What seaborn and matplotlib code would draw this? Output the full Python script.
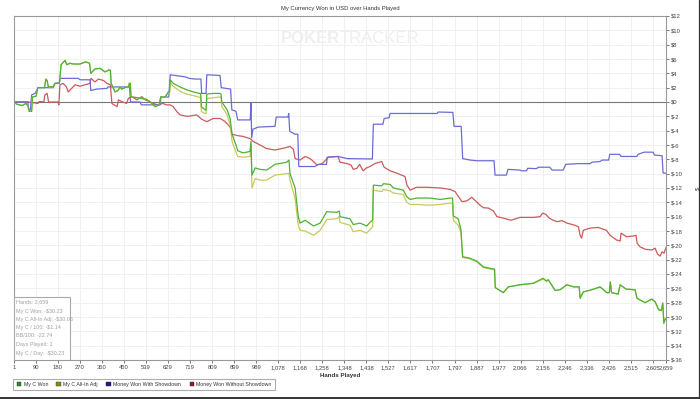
import numpy as np
import pandas as pd
import matplotlib
matplotlib.use("Agg")
import matplotlib.pyplot as plt
from matplotlib.patches import Patch, Rectangle
from matplotlib.lines import Line2D
import seaborn as sns

# ---------------- data ----------------
TITLE = "My Currency Won in USD over Hands Played"
SERIES_NAMES = ["My C Won", "My C All-In Adj", "Money Won With Showdown", "Money Won Without Showdown"]

HANDS_C = [1, 12, 34, 50, 59, 63, 73, 76, 91, 98, 125, 131, 136, 141, 160, 168, 186, 193, 201, 209,
           216, 229, 243, 270, 293, 309, 314, 331, 352, 372, 390, 394, 397, 413, 425, 433, 440, 460,
           468, 471, 475, 478, 494, 522, 539, 555, 576, 593, 599, 617, 630, 635, 638, 650, 678, 705,
           732, 757, 762, 765, 780, 784, 787, 814, 841, 845, 848, 870, 882, 890, 906, 913, 935, 963,
           967, 971, 984, 1004, 1031, 1065, 1113, 1122, 1126, 1147, 1160, 1167, 1188, 1222, 1249,
           1276, 1317, 1327, 1330, 1371, 1384, 1412, 1439, 1452, 1463, 1466, 1500, 1507, 1534, 1548,
           1588, 1602, 1616, 1643, 1697, 1738, 1779, 1789, 1792, 1812, 1823, 1830, 1847, 1860, 1888,
           1914, 1955, 1960, 1963, 1996, 2016, 2064, 2118, 2158, 2172, 2179, 2207, 2227, 2255, 2282,
           2305, 2309, 2322, 2356, 2390, 2418, 2428, 2432, 2437, 2464, 2472, 2496, 2533, 2541, 2574,
           2601, 2615, 2629, 2640, 2646, 2650, 2655, 2659]

MY_C_WON = [0, -0.3, -0.5, -0.2, -0.6, -1.3, -1.3, 0.7, 0.8, 2.0, 2.0, 3.2, 3.0, 2.1, 2.1, 2.6, 2.6,
            5.2, 5.5, 5.8, 5.2, 5.4, 5.3, 5.3, 5.6, 5.4, 4.0, 4.6, 4.7, 4.2, 4.5, 4.4, 2.6, 1.4, 1.6,
            2.1, 1.8, 2.1, 2.1, 2.6, 2.6, 0.7, 0.65, 0.5, 0.4, 0.05, -0.65, -0.4, 0.7, 0.7, 1.4, 1.4,
            3.1, 2.6, 2.1, 1.7, 1.4, 1.2, 1.2, -0.65, -1.1, -1.1, 1.1, 1.2, 1.2, 1.1, 0.0, -1.1, -2.3,
            -4.5, -6.0, -6.8, -7.1, -6.9, -5.5, -10.2, -9.2, -9.4, -9.5, -8.7, -8.4, -8.1, -9.95,
            -12.0, -16.0, -16.9, -16.5, -17.3, -16.9, -15.3, -15.4, -15.2, -16.0, -16.3, -17.1,
            -16.9, -17.3, -16.8, -16.5, -11.6, -11.7, -11.4, -11.5, -12.0, -12.3, -13.2, -13.6,
            -13.4, -13.4, -13.6, -13.4, -13.4, -15.9, -16.3, -17.8, -21.6, -21.7, -21.8, -22.2,
            -23.0, -23.3, -23.3, -25.9, -26.6, -25.8, -25.5, -25.3, -24.6, -25.0, -24.8, -26.3,
            -26.2, -25.5, -25.8, -25.8, -27.4, -26.5, -26.2, -25.8, -26.6, -26.6, -25.1, -26.6,
            -26.8, -25.5, -26.1, -26.2, -27.4, -28.0, -27.5, -27.9, -29.0, -29.1, -28.1, -30.9,
            -30.4, -30.23]

MY_C_ALLIN = [0, -0.3, -0.5, -0.2, -0.6, -1.3, -1.3, 0.7, 0.8, 2.0, 2.0, 3.2, 3.0, 2.1, 2.1, 2.6, 2.6,
              5.2, 5.5, 5.8, 5.2, 5.4, 5.3, 5.3, 5.6, 5.4, 4.0, 4.6, 4.7, 4.2, 4.5, 4.4, 2.6, 1.4, 1.6,
              2.1, 1.8, 2.1, 2.1, 2.6, 2.6, 0.7, 0.65, 0.5, 0.4, 0.05, -0.65, -0.4, 0.7, 0.7, 1.3, 1.3,
              2.7, 2.2, 1.5, 1.1, 0.9, 0.65, 0.65, -1.35, -1.6, -1.6, 0.5, 0.6, 0.7, 0.6, -0.6, -1.8,
              -3.2, -5.5, -7.0, -7.6, -7.7, -7.6, -6.0, -12.0, -10.7, -10.9, -10.9, -10.2, -10.0,
              -9.95, -10.9, -13.5, -17.2, -17.9, -18.0, -18.6, -17.9, -16.4, -16.3, -16.0, -16.8,
              -17.2, -18.1, -17.9, -18.3, -17.8, -17.4, -12.3, -12.5, -12.2, -12.4, -12.7, -12.9,
              -14.0, -14.3, -14.3, -14.4, -14.3, -14.1, -14.2, -16.5, -17.2, -18.2, -21.7, -21.8,
              -21.9, -22.3, -23.1, -23.4, -23.4, -25.9, -26.6, -25.8, -25.5, -25.3, -24.7, -25.0,
              -24.8, -26.3, -26.2, -25.5, -25.8, -25.8, -27.3, -26.5, -26.2, -25.8, -26.6, -26.6,
              -25.1, -26.6, -26.8, -25.5, -26.1, -26.2, -27.4, -28.0, -27.5, -27.9, -28.9, -29.0,
              -28.0, -30.7, -30.2, -30.06]

HANDS_SD = [1, 58, 60, 68, 73, 87, 99, 161, 168, 186, 188, 263, 270, 311, 314, 338, 380, 384, 472,
            476, 515, 520, 597, 600, 632, 638, 680, 700, 715, 739, 763, 766, 784, 787, 841, 846, 884,
            889, 906, 913, 964, 967, 970, 975, 996, 1065, 1070, 1118, 1121, 1125, 1147, 1158, 1162,
            1228, 1240, 1275, 1278, 1322, 1360, 1462, 1466, 1505, 1510, 1530, 1534, 1726, 1730, 1790,
            1795, 1824, 1830, 1860, 1888, 1958, 1962, 2008, 2015, 2064, 2070, 2090, 2095, 2130, 2140,
            2185, 2195, 2240, 2250, 2300, 2350, 2357, 2390, 2400, 2425, 2430, 2470, 2476, 2540, 2545,
            2570, 2606, 2612, 2643, 2647, 2659]
WON_SD = [0, 0, -1.0, -1.1, 1.0, 1.2, 2.0, 2.0, 2.6, 2.7, 3.3, 3.3, 3.1, 3.1, 1.6, 1.8, 1.9, 2.1, 2.1,
          0.0, 0.0, -0.4, -0.4, 0.7, 0.7, 3.8, 3.6, 3.5, 3.3, 3.2, 3.2, 1.2, 1.2, 3.8, 3.7, 2.0, 1.8,
          -1.1, -1.3, -2.5, -2.5, -0.2, -5.0, -3.8, -3.5, -3.4, -2.1, -2.1, -1.6, -4.1, -4.5, -4.5,
          -9.0, -9.0, -8.7, -8.7, -7.7, -7.6, -7.9, -7.95, -3.1, -3.1, -2.3, -2.2, -1.6, -1.6, -1.4,
          -1.45, -3.4, -3.4, -7.9, -8.1, -8.2, -8.2, -10.2, -10.2, -9.4, -9.5, -9.6, -9.6, -9.25,
          -9.3, -9.1, -9.1, -9.5, -9.5, -8.7, -8.6, -8.6, -8.4, -8.3, -8.1, -8.1, -7.3, -7.3, -7.6,
          -7.6, -7.3, -7.0, -7.0, -7.4, -7.5, -9.9, -9.95]

HANDS_NSD = [1, 58, 99, 103, 123, 127, 136, 142, 180, 184, 188, 201, 215, 222, 236, 250, 270, 290,
             311, 315, 331, 345, 366, 380, 394, 400, 421, 427, 440, 460, 467, 481, 502, 522, 535, 555,
             568, 588, 608, 622, 637, 650, 665, 678, 706, 719, 746, 766, 787, 813, 841, 861, 882, 890,
             914, 935, 963, 976, 1004, 1031, 1065, 1106, 1126, 1140, 1147, 1167, 1188, 1208, 1222,
             1236, 1257, 1283, 1322, 1330, 1359, 1375, 1384, 1399, 1410, 1424, 1438, 1452, 1472, 1500,
             1510, 1534, 1563, 1595, 1603, 1616, 1642, 1685, 1740, 1779, 1799, 1819, 1827, 1847, 1867,
             1880, 1901, 1914, 1935, 1955, 1970, 1996, 2027, 2064, 2118, 2146, 2156, 2170, 2183, 2199,
             2215, 2235, 2255, 2288, 2302, 2309, 2315, 2322, 2349, 2382, 2416, 2431, 2457, 2472, 2476,
             2498, 2525, 2537, 2541, 2553, 2574, 2601, 2615, 2624, 2635, 2643, 2651, 2659]
WON_NSD = [0, 0, -0.2, 0.05, 0.05, 1.0, 1.2, 0.0, 0.0, -0.4, 2.4, 2.6, 2.1, 1.4, 1.9, 2.4, 2.2, 2.4,
           2.6, 3.3, 2.8, 3.2, 3.0, 2.6, 2.4, -0.2, -0.65, 0.3, 0.05, -0.2, 0.5, 0.75, 0.3, 0.75, 0.3,
           0.05, -0.2, -0.4, -0.2, -0.4, -0.4, -0.65, -1.35, -1.8, -2.0, -1.95, -1.8, -2.4, -2.75,
           -2.3, -2.3, -2.7, -3.5, -4.5, -4.7, -4.8, -5.1, -5.5, -6.0, -6.5, -6.7, -6.4, -6.2, -6.6,
           -7.9, -8.1, -7.6, -7.9, -8.3, -8.8, -8.6, -7.7, -7.6, -8.4, -8.6, -8.8, -9.4, -9.25, -8.7,
           -9.6, -9.2, -9.0, -8.6, -8.3, -9.1, -9.6, -9.95, -10.4, -11.6, -12.3, -11.9, -11.9, -12.0,
           -12.2, -12.5, -13.5, -13.9, -13.8, -13.3, -13.7, -14.4, -14.75, -14.8, -15.2, -16.0, -16.2,
           -16.5, -16.1, -16.1, -16.0, -15.5, -15.7, -16.2, -16.5, -16.7, -16.55, -16.9, -17.2, -17.4,
           -18.6, -19.0, -17.9, -17.6, -17.5, -17.9, -18.6, -19.25, -19.4, -18.3, -18.8, -18.7, -18.6,
           -19.7, -20.2, -20.55, -20.65, -20.4, -21.2, -21.5, -20.9, -21.1, -20.3]

X_TICKS = [1, 90, 180, 270, 360, 450, 539, 629, 719, 809, 899, 989, 1078, 1168, 1258, 1348, 1438,
           1527, 1617, 1707, 1797, 1887, 1977, 2066, 2156, 2246, 2336, 2426, 2515, 2605, 2659]
Y_TICKS = list(range(-36, 13, 2))

STATS = ["Hands: 2,659", "My C Won: -$30.23", "My C All-In Adj: -$30.06", "My C / 100: -$1.14",
         "BB/100: -22.74", "Days Played: 1", "My C / Day: -$30.23"]

LINE_COLORS = ["#4cb336", "#c9c95a", "#6b6bd6", "#cc5a5a"]
LEGEND_COLORS = ["#1f8f1f", "#8a8a10", "#1a1a8c", "#8c1a1a"]

# ---------------- frame ----------------
frames = [
    pd.DataFrame({"hands": HANDS_NSD, "won": WON_NSD, "series": SERIES_NAMES[3]}),
    pd.DataFrame({"hands": HANDS_SD, "won": WON_SD, "series": SERIES_NAMES[2]}),
    pd.DataFrame({"hands": HANDS_C, "won": MY_C_ALLIN, "series": SERIES_NAMES[1]}),
    pd.DataFrame({"hands": HANDS_C, "won": MY_C_WON, "series": SERIES_NAMES[0]}),
]
df = pd.concat(frames, ignore_index=True)

sns.set_theme(style="white")
plt.rcParams["font.family"] = ["Liberation Sans", "DejaVu Sans"]

fig = plt.figure(figsize=(7.0, 3.99), dpi=100)
ax = fig.add_axes([14 / 700, 1 - 360 / 399, 652 / 700, 344 / 399])

palette = dict(zip(SERIES_NAMES, LINE_COLORS))
sns.lineplot(data=df, x="hands", y="won", hue="series", palette=palette,
             hue_order=[SERIES_NAMES[3], SERIES_NAMES[2], SERIES_NAMES[1], SERIES_NAMES[0]],
             estimator=None, sort=False, linewidth=0.9, legend=False, ax=ax, zorder=3)

ax.set_xlim(1, 2659)
ax.set_ylim(-36, 12)
ax.set_xticks(X_TICKS)
ax.set_xticklabels([f"{t:,}" for t in X_TICKS])
ax.set_yticks(Y_TICKS)
ax.set_yticklabels([f"${t}" for t in Y_TICKS])
ax.yaxis.tick_right()
ax.yaxis.set_label_position("right")
ax.tick_params(axis="both", which="both", labelsize=4.2, colors="#444444", length=2, width=0.5,
               pad=1.5, direction="out")
ax.tick_params(axis="x", bottom=True)
ax.tick_params(axis="y", right=True, left=False)
ax.grid(True, color="#eeeeee", linewidth=0.6)
ax.axhline(0, color="#777777", linewidth=0.8, zorder=2)
for s in ax.spines.values():
    s.set_color("#999999")
    s.set_linewidth(0.8)

ax.set_xlabel("Hands Played", fontsize=4.4, fontweight="bold", color="#333333", labelpad=2)
ax.set_ylabel("$", fontsize=4.4, color="#444444", rotation=90, labelpad=9)
ax.set_title(TITLE, fontsize=4.2, color="#333333", pad=4)

# watermark
ax.text(0.5, 0.935, "POKER", transform=ax.transAxes, ha="right", va="center", fontsize=12,
        fontweight="bold", color="#efefef", zorder=1)
ax.text(0.5, 0.935, "TRACKER", transform=ax.transAxes, ha="left", va="center", fontsize=12,
        color="#efefef", zorder=1)

# stats box
ax.add_patch(Rectangle((0, 0), 56 / 652, 63 / 344, transform=ax.transAxes, facecolor="white",
                       edgecolor="#aaaaaa", linewidth=0.8, zorder=5))
stat_y = [302, 311, 319.3, 327.7, 335.7, 344.3, 353.3]
for txt, yp in zip(STATS, stat_y):
    ax.text(2.5 / 652, (360 - yp) / 344, txt, transform=ax.transAxes, fontsize=3.9,
            color="#a0a0a0", ha="left", va="center", zorder=6)

# legend
handles = [Patch(facecolor=c, edgecolor="#333333", linewidth=0.3, label=n)
           for c, n in zip(LEGEND_COLORS, SERIES_NAMES)]
leg = fig.legend(handles=handles, loc="lower left", bbox_to_anchor=(13.5 / 700, 1 - 390 / 399),
                 ncol=4, fontsize=3.8, frameon=True, fancybox=False, handlelength=0.8,
                 handleheight=0.8, handletextpad=0.5, columnspacing=1.6, borderpad=0.6,
                 borderaxespad=0)
leg.get_frame().set_edgecolor("#999999")
leg.get_frame().set_linewidth(0.8)
for t in leg.get_texts():
    t.set_color("#333333")

# outer shadow lines
fig.add_artist(Line2D([0, 1], [1.5 / 399, 1.5 / 399], transform=fig.transFigure, color="#333333",
                      linewidth=1.4))
fig.add_artist(Line2D([699.3 / 700, 699.3 / 700], [0, 1], transform=fig.transFigure,
                      color="#333333", linewidth=0.9))

fig.savefig("out.png", dpi=100)
